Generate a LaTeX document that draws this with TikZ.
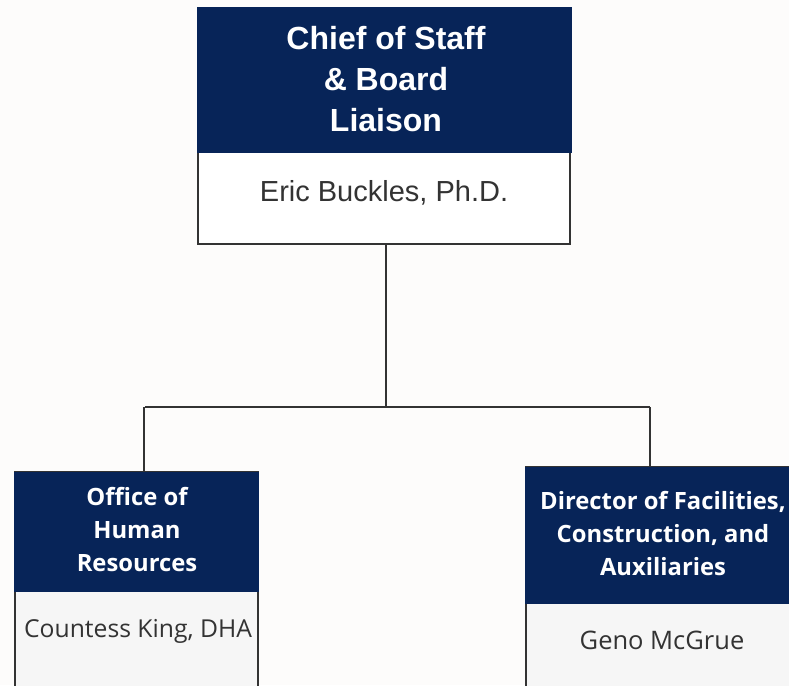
\documentclass[tikz,border=0pt]{standalone}
\usepackage{fontspec}
\setmainfont{Liberation Sans}
\newfontfamily\interf{Open Sans}
\definecolor{navy}{HTML}{072458}
\definecolor{bg}{HTML}{FDFCFB}
\definecolor{edge}{HTML}{333333}
\definecolor{txt}{HTML}{333333}
\definecolor{body}{HTML}{F6F6F6}
\begin{document}
\begin{tikzpicture}[x=1pt,y=-1pt,
  frame/.style={draw=edge,line width=2pt},
  head/.style={fill=navy},
  conn/.style={draw=edge,line width=2pt},
  toptitle/.style={text=white,font=\fontsize{32}{41}\selectfont\bfseries,align=center},
  topname/.style={text=txt,font=\fontsize{29}{32}\selectfont},
  subtitle/.style={text=white,font=\interf\fontsize{23.8}{33}\selectfont\bfseries,align=center},
  subname/.style={text=txt,font=\interf\fontsize{24.7}{28}\selectfont}]
\useasboundingbox (0,0) rectangle (789,685);
\fill[bg] (0,0) rectangle (789,685);
% top box
\filldraw[frame,fill=white] (198,8) rectangle (570,244);
\fill[head] (197,7) rectangle (572,153);
\node[toptitle] (toph) at (386,79) {Chief of Staff\\ \& Board\\ Liaison};
\node[topname] (topn) at (384,193) {Eric Buckles, Ph.D.};
\coordinate (topb) at (386,245);
% left box
\filldraw[frame,fill=body] (15,472) -- (15,690) -- (258,690) -- (258,472) -- cycle;
\fill[head] (14,472) rectangle (259,592);
\node[subtitle] (lh) at (137,530) {Office of\\ Human\\ Resources};
\node[subname] (ln) at (138,631) {Countess King, DHA};
\coordinate (ltop) at (144,471);
% right box
\filldraw[frame,fill=body] (526,467) -- (526,690) -- (800,690) -- (800,467) -- cycle;
\fill[head] (525,467) rectangle (800,604);
\node[subtitle] (rh) at (663,534) {Director of Facilities,\\ Construction, and\\ Auxiliaries};
\node[subname,font=\interf\fontsize{25.5}{28}\selectfont] (rn) at (662,640) {Geno McGrue};
\coordinate (rtop) at (650,467);
% connectors
\coordinate (bus) at (386,407);
\draw[conn] (topb) -- (bus);
\draw[conn] (145,407) -- (650,407);
\draw[conn] (ltop) -- (144,407);
\draw[conn] (rtop) -- (650,407);
\end{tikzpicture}
\end{document}
